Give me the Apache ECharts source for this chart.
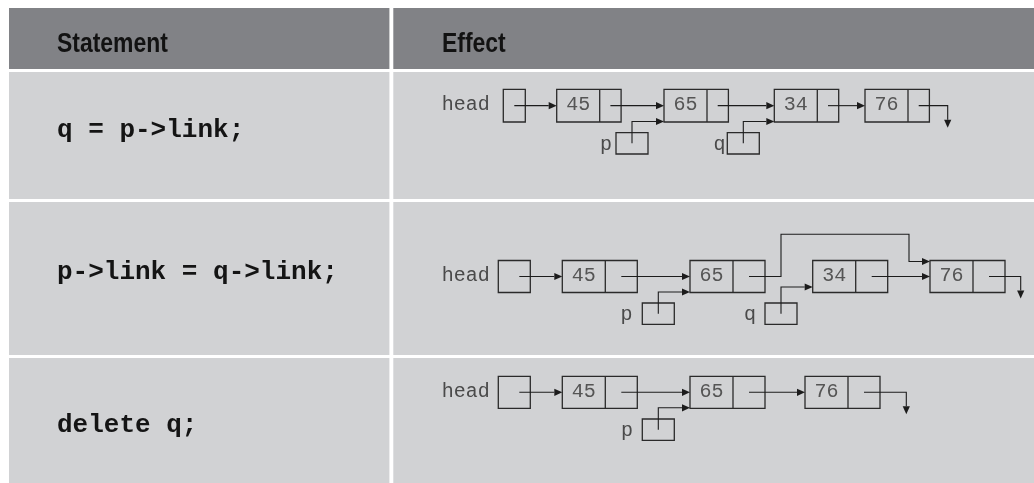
<!DOCTYPE html>
<html><head><meta charset="utf-8">
<script src="https://cdn.jsdelivr.net/npm/echarts/dist/echarts.min.js"></script>
<style>html,body{margin:0;padding:0;background:#fff}#c{width:1034px;height:483px}</style>
</head><body><div id="c"></div>
<script>
// ---- content ----
const headers = ['Statement', 'Effect'];
const statements = ['q = p->link;', 'p->link = q->link;', 'delete q;'];
const row1Values = ['45', '65', '34', '76'];
const row2Values = ['45', '65', '34', '76'];
const row3Values = ['45', '65', '76'];
const row1Next = [1, 2, 3, null];
const row2Next = [1, 3, 3, null];
const row3Next = [1, 2, null];
const row1Pointers = ['p', 'q'];
const row2Pointers = ['p', 'q'];
const row3Pointers = ['p'];
const row1Targets = [1, 2];
const row2Targets = [1, 2];
const row3Targets = [1];
const headLabel = 'head';

// ---- layout (axis units = pixels) ----
const tableRowsY = [[8, 69], [72, 199], [202, 355], [358, 483]];
const tableColsX = [[9, 389.4], [393.3, 1034]];
const headerTextX = [57, 442];
const headerTextY = 45;
const statementX = 57;
const statementY = [130, 272, 425];
const headLabelX = 441.7;
const diagrams = [
  { values: row1Values, next: row1Next, ptrs: row1Pointers, tgts: row1Targets,
    nodeX: [556.7, 664, 774.3, 865], top: 89.3, h: 32.7, dataW: 43, linkW: 21.4,
    headX: 503.3, headW: 22, headStart: 514.3,
    ptrX: [616, 727.3], ptrTop: 132.7, ptrArrowY: [121.5, 121.5], ptrLabelX: [612, 725.5],
    nullX: 947.7, detour: null },
  { values: row2Values, next: row2Next, ptrs: row2Pointers, tgts: row2Targets,
    nodeX: [562.3, 690, 812.7, 930], top: 260.5, h: 32, dataW: 43, linkW: 32,
    headX: 498.3, headW: 32, headStart: 519.3,
    ptrX: [642.3, 765], ptrTop: 303, ptrArrowY: [292, 287], ptrLabelX: [632.5, 756],
    nullX: 1020.7, detour: { from: 1, outX: 781, upY: 234.3, inX: 909 } },
  { values: row3Values, next: row3Next, ptrs: row3Pointers, tgts: row3Targets,
    nodeX: [562.3, 690, 805], top: 376.3, h: 32, dataW: 43, linkW: 32,
    headX: 498.3, headW: 32, headStart: 519.3,
    ptrX: [642.3], ptrTop: 419, ptrArrowY: [407.8], ptrLabelX: [633],
    nullX: 906.3, detour: null }
];
const ptrW = 32, ptrH = 21.3;

const HEADER_BG = '#818286', BODY_BG = '#d1d2d4';
const LINE = '#1c1c1c', BOX = '#2a2a2a';
const MONO = '"Liberation Mono", "DejaVu Sans Mono", monospace';
const SANS = '"Liberation Sans", Arial, sans-serif';

// ---- build primitive lists from the data ----
const cells = [];
tableRowsY.forEach((ry, r) => tableColsX.forEach(cx => cells.push([cx[0], ry[0], cx[1], ry[1], r === 0 ? 1 : 0])));

const texts = [];
headers.forEach((t, i) => texts.push({ t, x: headerTextX[i], y: headerTextY, font: 'bold 27px ' + SANS, fill: '#121212', sx: 0.85 }));
statements.forEach((t, i) => texts.push({ t, x: statementX, y: statementY[i], font: 'bold 26px ' + MONO, fill: '#141414' }));

const nodes = [];   // [left, top, dataW, linkW, h, text]
const boxes = [];   // [left, top, w, h]
const arrows = [];  // list of points
diagrams.forEach(d => {
  const cy = d.top + d.h / 2;
  // head
  boxes.push([d.headX, d.top, d.headW, d.h]);
  texts.push({ t: headLabel, x: headLabelX, y: cy - 1, font: '20px ' + MONO, fill: '#4a4a4a' });
  arrows.push([[d.headStart, cy], [d.nodeX[0], cy]]);
  // nodes + links
  d.values.forEach((v, i) => {
    const x = d.nodeX[i];
    nodes.push([x, d.top, d.dataW, d.linkW, d.h, v]);
    const sx = x + d.dataW + d.linkW / 2;
    const n = d.next[i];
    if (n === null) {
      arrows.push([[sx, cy], [d.nullX, cy], [d.nullX, cy + 22]]);
    } else if (d.detour && d.detour.from === i) {
      const t = d.detour;
      arrows.push([[sx, cy], [t.outX, cy], [t.outX, t.upY], [t.inX, t.upY], [t.inX, d.top + 1], [d.nodeX[n], d.top + 1]]);
    } else {
      arrows.push([[sx, cy], [d.nodeX[n], cy]]);
    }
  });
  // pointers
  d.ptrs.forEach((name, k) => {
    const bx = d.ptrX[k], pcx = bx + ptrW / 2, pcy = d.ptrTop + ptrH / 2;
    boxes.push([bx, d.ptrTop, ptrW, ptrH]);
    texts.push({ t: name, x: d.ptrLabelX[k], y: pcy + 1.5, font: '20px ' + MONO, fill: '#4a4a4a', align: 'right' });
    arrows.push([[pcx, pcy], [pcx, d.ptrArrowY[k]], [d.nodeX[d.tgts[k]], d.ptrArrowY[k]]]);
  });
});

// ---- chart ----
const chart = echarts.init(document.getElementById('c'), null, { renderer: 'canvas' });
const axisCommon = { show: false, type: 'value' };
function idx(arr) { return arr.map((_, i) => [i]); }

chart.setOption({
  animation: false,
  backgroundColor: '#ffffff',
  grid: { left: 0, right: 0, top: 0, bottom: 0 },
  xAxis: Object.assign({ min: 0, max: 1034 }, axisCommon),
  yAxis: Object.assign({ min: 0, max: 483, inverse: true }, axisCommon),
  series: [
    { type: 'custom', name: 'cells', silent: true, data: cells.map(c => c.slice()),
      renderItem: (p, api) => {
        const a = api.coord([api.value(0), api.value(1)]), b = api.coord([api.value(2), api.value(3)]);
        return { type: 'rect', shape: { x: a[0], y: a[1], width: b[0] - a[0], height: b[1] - a[1] },
          style: { fill: api.value(4) ? HEADER_BG : BODY_BG } };
      } },
    { type: 'custom', name: 'nodes', silent: true, z: 3, data: idx(nodes),
      renderItem: (p, api) => {
        const n = nodes[p.dataIndex];
        const a = api.coord([n[0], n[1]]);
        const w1 = api.size([n[2], 0])[0], w2 = api.size([n[3], 0])[0], h = api.size([0, n[4]])[1];
        return { type: 'group', children: [
          { type: 'rect', shape: { x: a[0], y: a[1], width: w1 + w2, height: h }, style: { fill: null, stroke: BOX, lineWidth: 1.3 } },
          { type: 'line', shape: { x1: a[0] + w1, y1: a[1], x2: a[0] + w1, y2: a[1] + h }, style: { stroke: BOX, lineWidth: 1.3 } },
          { type: 'text', style: { text: n[5], x: a[0] + w1 / 2, y: a[1] + h / 2 - 0.5, font: '20px ' + MONO, fill: '#555555', align: 'center', verticalAlign: 'middle' } }
        ] };
      } },
    { type: 'custom', name: 'boxes', silent: true, z: 3, data: idx(boxes),
      renderItem: (p, api) => {
        const b = boxes[p.dataIndex];
        const a = api.coord([b[0], b[1]]), s = api.size([b[2], b[3]]);
        return { type: 'rect', shape: { x: a[0], y: a[1], width: s[0], height: s[1] }, style: { fill: null, stroke: BOX, lineWidth: 1.3 } };
      } },
    { type: 'custom', name: 'arrows', silent: true, z: 4, data: idx(arrows),
      renderItem: (p, api) => {
        const px = arrows[p.dataIndex].map(q => api.coord(q));
        const m = px.length;
        const [x1, y1] = px[m - 2], [x2, y2] = px[m - 1];
        const L = Math.hypot(x2 - x1, y2 - y1), ux = (x2 - x1) / L, uy = (y2 - y1) / L;
        const len = 8, hw = 3.6, bx = x2 - ux * len, by = y2 - uy * len;
        return { type: 'group', children: [
          { type: 'polyline', shape: { points: px.slice(0, m - 1).concat([[bx, by]]) }, style: { stroke: LINE, lineWidth: 1.1, fill: null } },
          { type: 'polygon', shape: { points: [[x2, y2], [bx - uy * hw, by + ux * hw], [bx + uy * hw, by - ux * hw]] }, style: { fill: LINE } }
        ] };
      } },
    { type: 'custom', name: 'texts', silent: true, z: 5, data: idx(texts),
      renderItem: (p, api) => {
        const t = texts[p.dataIndex];
        const a = api.coord([t.x, t.y]);
        return { type: 'text', x: a[0], y: a[1], scaleX: t.sx || 1, scaleY: 1,
          style: { text: t.t, x: 0, y: 0, font: t.font, fill: t.fill, align: t.align || 'left', verticalAlign: 'middle' } };
      } }
  ]
});
</script></body></html>
